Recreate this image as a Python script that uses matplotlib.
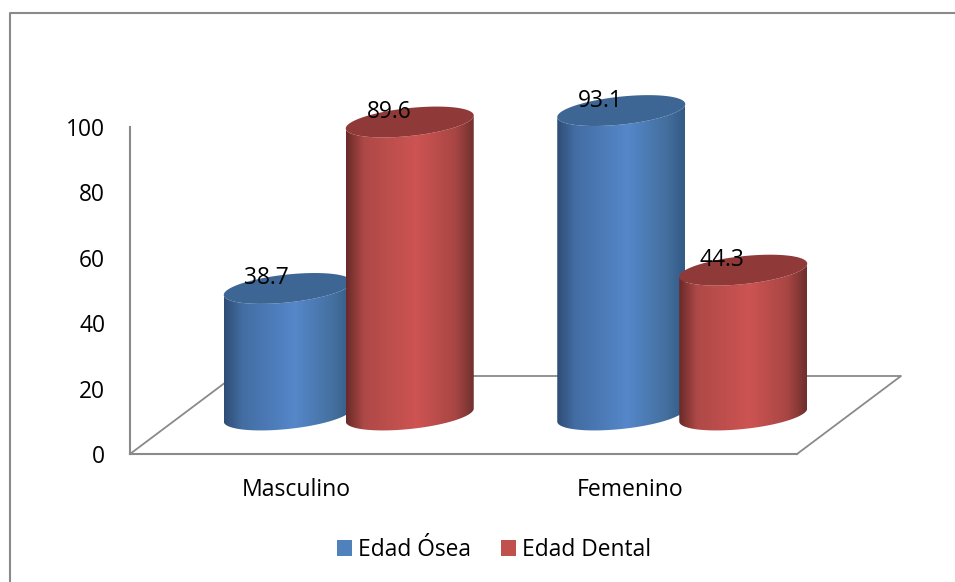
import numpy as np
import matplotlib
matplotlib.use("Agg")
import matplotlib.pyplot as plt
from matplotlib.colors import LinearSegmentedColormap
from matplotlib.lines import Line2D
from matplotlib.patches import Patch, Polygon

categories = ["Masculino", "Femenino"]
edad_osea = [38.7, 93.1]
edad_dental = [89.6, 44.3]
series_names = ["Edad Ósea", "Edad Dental"]
y_ticks = [0, 20, 40, 60, 80, 100]

plt.rcParams["font.family"] = ["Open Sans", "DejaVu Sans"]

W, H = 955, 582
grey = "#8a8a8a"

fig = plt.figure(figsize=(W/100, H/100), dpi=100, facecolor="white")
# axes box is the front of the floor, x 130-797 and y 127-454 in pixels
ax = fig.add_axes([130/W, 1-454/H, 667/W, 327/H])
ax.set_xlim(0, 2)
ax.set_ylim(0, 100)
ax.patch.set_visible(False)

px = 2/667      # x data units per pixel
py = 100/327    # y data units per pixel

depth_x, depth_y = 104*px, 78*py
half_w = 64*px
bar_off = 61*px
tilt = 6.5*py
ell_h = 14*py


def ramp(stops):
    return LinearSegmentedColormap.from_list("c", stops)


styles = [
    (ramp([(0, "#2e4d75"), (.14, "#436da3"), (.55, "#5587ca"), (.85, "#44709f"), (1, "#345a86")]), "#3d6694"),
    (ramp([(0, "#692a29"), (.14, "#ae4947"), (.55, "#cd5452"), (.85, "#a84644"), (1, "#6e2f2d")]), "#8f3a38"),
]


def ellipse(cx, cy, t):
    return cx + half_w*np.cos(t), cy + tilt*np.cos(t) + ell_h*np.sin(t)


def cylinder(cx, value, cmap, top_color, z):
    base = depth_y/2
    top = base + value
    t = np.linspace(np.pi, 2*np.pi, 80)
    x1, y1 = ellipse(cx, top, t)
    x0, y0 = ellipse(cx, base, t[::-1])
    side = Polygon(np.column_stack([np.r_[x1, x0], np.r_[y1, y0]]), closed=True,
                   facecolor="none", edgecolor="none", transform=ax.transData)
    ax.add_patch(side)
    grad = np.linspace(0, 1, 256).reshape(1, -1)
    im = ax.imshow(grad, cmap=cmap, aspect="auto", zorder=z, interpolation="bilinear",
                   extent=[cx-half_w, cx+half_w, base-ell_h-tilt, top+tilt])
    im.set_clip_path(side)
    im.set_clip_box(fig.bbox)
    t = np.linspace(0, 2*np.pi, 160)
    xc, yc = ellipse(cx, top, t)
    ax.fill(xc, yc, color=top_color, lw=0, zorder=z+.1, clip_on=False)
    ax.annotate(f"{value:.1f}", (cx, top), xytext=(-21, 10), textcoords="offset pixels",
                ha="center", va="center", fontsize=16.4, color="black", zorder=20,
                annotation_clip=False)


# floor
ax.plot([0, depth_x, 2+depth_x, 2], [0, depth_y, depth_y, 0], color=grey, lw=1.3,
        clip_on=False, zorder=1)

z = 3
for i in range(len(categories)):
    cx = i + .5 + depth_x/2
    cylinder(cx-bar_off, edad_osea[i], styles[0][0], styles[0][1], z)
    cylinder(cx+bar_off, edad_dental[i], styles[1][0], styles[1][1], z+1)
    z += 2

ax.set_xlim(0, 2)
ax.set_ylim(0, 100)

for s in ["top", "right"]:
    ax.spines[s].set_visible(False)
for s in ["left", "bottom"]:
    ax.spines[s].set_color(grey)
    ax.spines[s].set_linewidth(1.5)

ax.set_xticks([.5, 1.5])
ax.set_xticklabels(categories, fontsize=16.6)
ax.set_yticks(y_ticks)
ax.tick_params(axis="y", length=0, pad=18, labelsize=16.4)
ax.tick_params(axis="x", length=0, pad=17.5)

handles = [Patch(facecolor="#4f81bd"), Patch(facecolor="#c0504d")]
fig.legend(handles, series_names, loc="center", bbox_to_anchor=(494/W, 1-550/H), ncol=2,
           frameon=False, fontsize=16.4, handlelength=.66, handleheight=.66,
           handletextpad=.28, columnspacing=1.3, borderpad=0)

# chart frame, runs off the right and bottom of the picture
fig.add_artist(Line2D([10/W, 10/W, 1], [0, 1-13/H, 1-13/H], color=grey, lw=1.5,
                      transform=fig.transFigure))

fig.savefig("out.png", dpi=100)
